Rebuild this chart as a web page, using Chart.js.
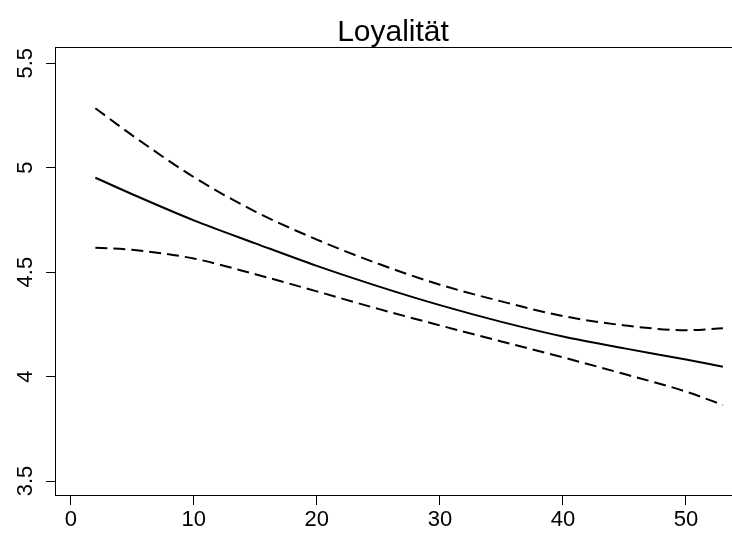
<!DOCTYPE html>
<html>
<head>
<meta charset="utf-8">
<script src="https://cdn.jsdelivr.net/npm/chart.js@4/dist/chart.umd.min.js"></script>
<style>
  html, body { margin: 0; padding: 0; overflow: hidden; background: #fff; }
  canvas { display: block; }
</style>
</head>
<body>
<canvas id="loyalChart" width="760" height="537" style="width:760px;height:537px"></canvas>
<script>
const chartTitle = 'Loyalität';
const xValues = [2, 5, 10, 15, 20, 25, 30, 35, 40, 45, 50, 53];
const fitValues = [4.952, 4.873, 4.748, 4.638, 4.530, 4.432, 4.342, 4.262, 4.192, 4.135, 4.082, 4.047];
const upperValues = [5.285, 5.155, 4.955, 4.790, 4.656, 4.540, 4.440, 4.360, 4.290, 4.245, 4.222, 4.231];
const lowerValues = [4.617, 4.607, 4.565, 4.490, 4.408, 4.324, 4.245, 4.168, 4.092, 4.012, 3.928, 3.864];
const xTicks = [0, 10, 20, 30, 40, 50];
const yTicks = [3.5, 4, 4.5, 5, 5.5];

const FONT = '"Liberation Sans", Arial, Helvetica, sans-serif';

function points(ys) {
    return xValues.map((x, i) => ({ x: x, y: ys[i] }));
}

// R-like box, rotated y labels and title
const rStyle = {
    id: 'rStyle',
    afterDraw(chart) {
        const ctx = chart.ctx;
        const a = chart.chartArea;
        const y = chart.scales.y;
        ctx.save();
        ctx.strokeStyle = '#000';
        ctx.lineWidth = 1;
        ctx.strokeRect(a.left + 0.5, a.top + 0.5, a.right - a.left, a.bottom - a.top);
        ctx.fillStyle = '#000';
        ctx.font = '22px ' + FONT;
        ctx.textAlign = 'center';
        ctx.textBaseline = 'middle';
        yTicks.forEach(v => {
            ctx.save();
            ctx.translate(26, y.getPixelForValue(v));
            ctx.rotate(-Math.PI / 2);
            ctx.fillText(String(v), 0, 0);
            ctx.restore();
        });
        ctx.font = '30px ' + FONT;
        ctx.textBaseline = 'alphabetic';
        ctx.fillText(chartTitle, 393, 41);
        ctx.restore();
    }
};

const lineStyle = {
    borderColor: '#000',
    borderWidth: 2,
    pointRadius: 0,
    fill: false,
    cubicInterpolationMode: 'monotone'
};

new Chart(document.getElementById('loyalChart'), {
    type: 'line',
    data: {
        datasets: [
            Object.assign({ label: 'fit', data: points(fitValues) }, lineStyle),
            Object.assign({ label: 'upper', data: points(upperValues), borderDash: [12, 6] }, lineStyle),
            Object.assign({ label: 'lower', data: points(lowerValues), borderDash: [12, 6] }, lineStyle)
        ]
    },
    options: {
        responsive: false,
        animation: false,
        devicePixelRatio: 1,
        layout: { padding: { top: 47, left: 0, right: 12, bottom: 0 } },
        plugins: { legend: { display: false }, title: { display: false }, tooltip: { enabled: false } },
        scales: {
            x: {
                type: 'linear',
                min: -1.28,
                max: 55.04,
                afterBuildTicks: s => { s.ticks = xTicks.map(v => ({ value: v })); },
                afterFit: s => { s.height = 42; },
                grid: { display: true, drawOnChartArea: false, drawTicks: true, tickLength: 10, color: '#000' },
                border: { display: true, color: '#000', width: 1 },
                ticks: { color: '#000', font: { family: FONT, size: 22 }, padding: 2, maxRotation: 0 }
            },
            y: {
                type: 'linear',
                min: 3.433,
                max: 5.578,
                afterBuildTicks: s => { s.ticks = yTicks.map(v => ({ value: v })); },
                afterFit: s => { s.width = 55; },
                grid: { display: true, drawOnChartArea: false, drawTicks: true, tickLength: 9, color: '#000' },
                border: { display: true, color: '#000', width: 1 },
                ticks: { callback: () => '', font: { family: FONT, size: 22 } }
            }
        }
    },
    plugins: [rStyle]
});
</script>
</body>
</html>
